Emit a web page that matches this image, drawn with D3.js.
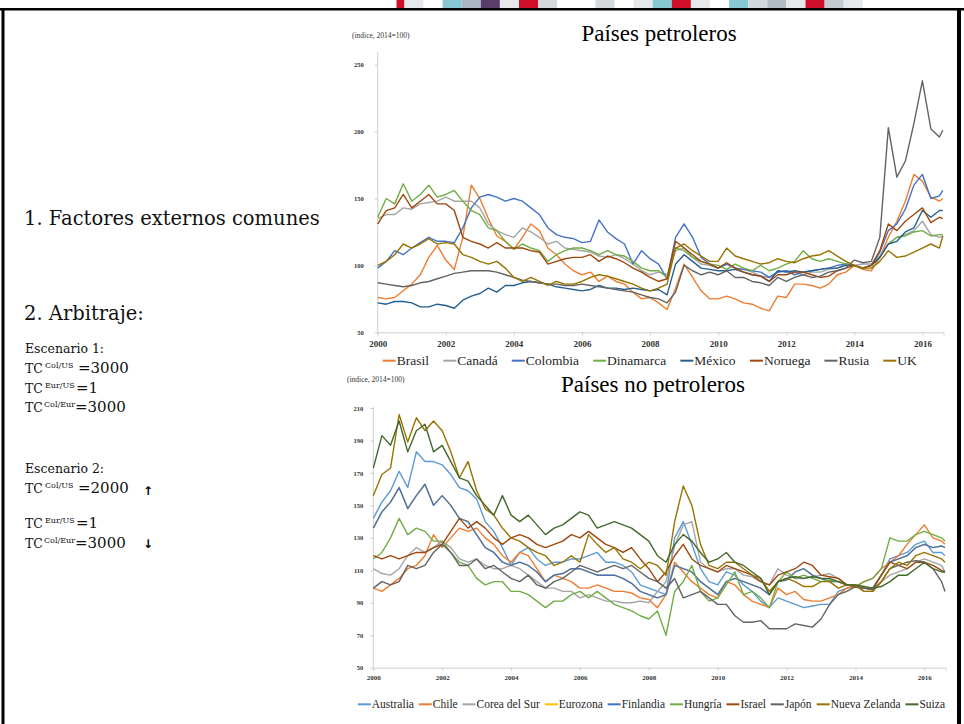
<!DOCTYPE html>
<html>
<head>
<meta charset="utf-8">
<title>Países petroleros / no petroleros</title>
<script src="https://cdn.jsdelivr.net/npm/d3@7"></script>
<style>
  body { margin: 0; background: #fff; }
  svg { display: block; }
</style>
</head>
<body>
<svg id="slide" width="964" height="724"></svg>
<script>
// fechas: trimestres 2000-2016 y el ultimo dato (ago-2016)
const fechas = d3.range(67).map(i => 2000 + i / 4).concat([2016.6]);
const anos = [2000, 2002, 2004, 2006, 2008, 2010, 2012, 2014, 2016];
const ticksPetro = [50, 100, 150, 200, 250];
const ticksNoPetro = [50, 70, 90, 110, 130, 150, 170, 190, 210];

// ---- paises petroleros (indice, 2014=100) ----
const brasil = [
  76, 75, 76, 81,  86, 93, 106, 115,  104, 97, 121, 160,  150, 135, 122, 118,
  112, 121, 131, 126,  113, 108, 101, 96,  93, 95, 88, 92,  88, 86, 80, 75,
  76, 72, 67, 83,  101, 91, 81, 75,  75, 77, 75, 72,  71, 68, 66, 77,
  76, 86, 86, 85,  83, 86, 93, 95,  100, 97, 96, 106,  121, 133, 148, 168,
  163, 151, 148, 150];
const canada = [
  135, 138, 138, 143,  142, 146, 147, 148,  151, 148, 148, 148,  143, 131, 126, 123,
  121, 128, 125, 121,  116, 118, 113, 112,  111, 110, 107, 106,  108, 105, 101, 96,
  93, 95, 93, 111,  113, 106, 101, 100,  98, 101, 98, 97,  95, 92, 91, 95,
  96, 95, 93, 95,  95, 97, 98, 101,  100, 101, 101, 107,  116, 121, 123, 126,
  133, 123, 121, 122];
const colombia = [
  98, 103, 111, 108,  113, 117, 121, 118,  118, 117, 128, 143,  151, 153, 151, 148,
  150, 148, 143, 138,  128, 123, 121, 120,  117, 118, 134, 125,  120, 116, 101, 111,
  105, 101, 90, 121,  131, 121, 106, 101,  98, 101, 98, 97,  96, 95, 91, 95,
  96, 93, 95, 96,  97, 98, 100, 101,  100, 98, 100, 110,  126, 131, 142, 160,
  168, 150, 152, 156];
const dinamarca = [
  136, 150, 146, 161,  148, 153, 160, 151,  153, 156, 148, 141,  138, 128, 126, 118,
  112, 116, 113, 111,  103, 108, 111, 113,  113, 111, 108, 111,  108, 107, 103, 98,
  96, 96, 91, 113,  111, 106, 103, 101,  100, 97, 101, 98,  96, 100, 96, 98,
  101, 103, 111, 105,  103, 105, 103, 101,  100, 98, 100, 106,  116, 121, 122, 125,
  126, 122, 123, 123];
const mexico = [
  72, 71, 73, 73,  72, 69, 69, 71,  70, 68, 74, 77,  79, 83, 80, 85,
  85, 87, 88, 87,  86, 84, 83, 82,  81, 82, 85, 83,  83, 82, 83, 82,
  81, 82, 78, 101,  108, 103, 98, 97,  96, 96, 97, 95,  93, 92, 88, 96,
  95, 96, 95, 96,  97, 98, 98, 100,  100, 98, 100, 106,  116, 118, 125, 128,
  141, 136, 141, 141];
const noruega = [
  131, 141, 143, 153,  143, 148, 153, 146,  146, 141, 121, 118,  116, 113, 117, 113,
  113, 113, 111, 110,  101, 103, 105, 106,  106, 108, 103, 107,  105, 102, 98, 95,
  91, 88, 90, 118,  113, 108, 103, 101,  98, 102, 98, 95,  93, 92, 88, 93,
  93, 95, 95, 93,  91, 92, 96, 98,  100, 98, 100, 111,  131, 126, 133, 138,
  143, 132, 136, 135];
const rusia = [
  87, 86, 85, 84,  85, 87, 88, 90,  92, 94, 95, 96,  96, 96, 95, 93,
  91, 89, 88, 87,  86, 86, 85, 85,  86, 85, 84, 83,  82, 81, 80, 78,
  76, 75, 72, 80,  100, 96, 93, 95,  93, 96, 91, 91,  88, 87, 85, 91,
  88, 91, 93, 91,  92, 95, 96, 98,  104, 102, 103, 121,  203, 166, 178, 206,
  238, 202, 196, 201];
const uk = [
  100, 103, 108, 116,  113, 116, 120, 116,  117, 116, 108, 106,  103, 101, 103, 98,
  91, 88, 91, 88,  85, 88, 86, 86,  88, 91, 93, 92,  90, 88, 86, 83,
  81, 83, 86, 113,  116, 111, 107, 103,  103, 113, 107, 105,  103, 101, 102, 105,
  103, 102, 105, 107,  108, 111, 107, 103,  100, 98, 98, 103,  111, 106, 107, 110,
  113, 116, 113, 122];

// ---- paises no petroleros (indice, 2014=100) ----
const australia = [
  142, 152, 159, 171,  161, 183, 177, 177,  175, 169, 161, 159,  154, 140, 134, 124,
  113, 121, 124, 117,  113, 115, 115, 117,  117, 119, 121, 115,  115, 113, 109, 101,
  99, 97, 95, 130,  140, 126, 111, 103,  101, 109, 107, 101,  97, 91, 87, 93,
  91, 89, 87, 88,  89, 89, 97, 99,  100, 99, 99, 107,  117, 119, 121, 126,
  128, 121, 121, 119];
const chile = [
  99, 97, 101, 105,  111, 113, 119, 132,  124, 130, 136, 134,  136, 130, 126, 119,
  115, 121, 119, 111,  103, 107, 105, 103,  99, 99, 101, 99,  97, 97, 96, 93,
  92, 87, 95, 115,  109, 103, 99, 95,  93, 103, 101, 95,  91, 89, 87, 99,
  95, 97, 92, 91,  91, 93, 95, 99,  100, 103, 105, 111,  115, 119, 126, 132,
  138, 130, 128, 126];
const corea = [
  111, 108, 107, 111,  119, 124, 121, 124,  128, 124, 117, 115,  117, 113, 111, 111,
  113, 111, 107, 103,  99, 99, 97, 97,  93, 95, 93, 91,  91, 90, 90, 91,
  90, 97, 103, 125,  138, 140, 115, 111,  109, 111, 111, 107,  106, 103, 101, 111,
  107, 105, 105, 106,  107, 108, 105, 101,  100, 97, 97, 103,  107, 109, 111, 115,
  117, 115, 113, 109];
const finlandia = [
  136, 146, 152, 161,  148, 156, 163, 150,  156, 150, 142, 140,  132, 124, 121, 115,
  113, 115, 113, 109,  103, 107, 108, 111,  111, 109, 107, 107,  107, 105, 102, 97,
  95, 93, 95, 113,  111, 109, 103, 99,  95, 103, 105, 103,  101, 99, 95, 103,
  104, 109, 111, 107,  105, 103, 103, 101,  100, 99, 99, 107,  115, 117, 119, 124,
  126, 124, 125, 124];
const eurozona = finlandia; // mismo euro: queda tapada por Finlandia
const hungria = [
  117, 121, 130, 142,  132, 136, 134, 128,  128, 121, 115, 113,  105, 101, 103, 103,
  97, 97, 95, 91,  87, 91, 91, 95,  97, 93, 97, 93,  89, 87, 85, 82,
  80, 85, 70, 97,  103, 113, 97, 91,  93, 101, 109, 95,  97, 93, 87, 103,
  109, 105, 107, 105,  103, 104, 103, 101,  100, 103, 105, 111,  130, 128, 128, 132,
  134, 132, 130, 128];
const israel = [
  119, 117, 119, 117,  119, 121, 121, 124,  126, 134, 142, 136,  140, 136, 130, 126,
  130, 132, 130, 126,  124, 126, 128, 132,  130, 134, 130, 126,  124, 121, 124, 117,
  111, 103, 109, 119,  126, 117, 113, 111,  109, 113, 111, 109,  107, 103, 101, 107,
  109, 111, 115, 113,  107, 106, 105, 101,  100, 99, 98, 107,  115, 113, 111, 115,
  115, 113, 110, 109];
const japon = [
  99, 103, 101, 103,  113, 111, 113, 121,  126, 121, 113, 113,  117, 111, 113, 109,
  105, 103, 107, 101,  99, 103, 105, 109,  113, 111, 109, 111,  113, 111, 113, 109,
  105, 103, 99, 105,  93, 95, 97, 93,  89, 89, 82, 78,  78, 79, 74, 74,
  74, 77, 76, 75,  80, 89, 95, 97,  100, 99, 98, 103,  111, 113, 115, 116,
  115, 111, 103, 97];
const nuevaZelanda = [
  156, 169, 173, 206,  189, 204, 196, 202,  196, 183, 167, 177,  159, 148, 144, 136,
  130, 128, 124, 121,  119, 113, 115, 119,  115, 132, 126, 121,  124, 117, 115, 111,
  115, 113, 107, 140,  162, 150, 126, 113,  111, 115, 115, 111,  107, 105, 97, 103,
  105, 103, 100, 100,  103, 103, 99, 101,  101, 97, 97, 103,  111, 115, 113, 119,
  121, 119, 117, 115];
const suiza = [
  173, 193, 187, 202,  183, 196, 200, 183,  187, 177, 167, 165,  156, 150, 144, 156,
  144, 140, 144, 138,  132, 136, 138, 142,  146, 144, 136, 138,  140, 138, 136, 132,
  128, 119, 115, 126,  132, 128, 121, 115,  117, 121, 115, 113,  109, 105, 95, 103,
  105, 106, 105, 106,  105, 105, 103, 101,  101, 100, 99, 100,  103, 107, 107, 111,
  115, 111, 109, 109];

const nombresPetro = ["Brasil", "Canadá", "Colombia", "Dinamarca", "México", "Noruega", "Rusia", "UK"];
const valoresPetro = [brasil, canada, colombia, dinamarca, mexico, noruega, rusia, uk];
const coloresPetro = ["#ED7D31", "#A5A5A5", "#4472C4", "#70AD47", "#255E91", "#9E480E", "#636363", "#997300"];

const nombresNoPetro = ["Australia", "Chile", "Corea del Sur", "Eurozona", "Finlandia", "Hungría", "Israel", "Japón", "Nueva Zelanda", "Suiza"];
const valoresNoPetro = [australia, chile, corea, eurozona, finlandia, hungria, israel, japon, nuevaZelanda, suiza];
const coloresNoPetro = ["#5B9BD5", "#ED7D31", "#A5A5A5", "#FFC000", "#4472C4", "#70AD47", "#9E480E", "#636363", "#997300", "#43682B"];

// franja de color cortada en el borde superior de la diapositiva
const franja = ["#e6e9ec", null, "#86c9d3", "#aab6c0", "#5b3d6b", "#e6e9ec", "#d0102a", "#d4d9de",
  null, null, "#d4d9de", null, "#e6e9ec", "#86c9d3", "#d0102a", "#e6e9ec", null,
  "#86c9d3", "#d4d9de", "#b3bbc3", "#e6e9ec", "#d0102a", "#c4ccd2", "#e6e9ec"];

const serif = "'Liberation Serif', 'Times New Roman', serif";
const slideFont = "'DejaVu Serif', serif";

const svg = d3.select("#slide");

// ---------- marco ----------
svg.append("rect").attr("x", 396.5).attr("y", 0).attr("width", 8).attr("height", 8).attr("fill", "#d0102a");
svg.append("g").selectAll("rect")
  .data(franja)
  .join("rect")
  .attr("x", (d, i) => 404.4 + i * 19.1)
  .attr("y", 0)
  .attr("width", 19.1)
  .attr("height", 8)
  .attr("fill", d => d || "none");
svg.append("rect").attr("x", 0).attr("y", 8).attr("width", 964).attr("height", 2.5).attr("fill", "#000");
svg.append("rect").attr("x", 1.5).attr("y", 8).attr("width", 3).attr("height", 716).attr("fill", "#000");
svg.append("rect").attr("x", 957).attr("y", 8).attr("width", 4).attr("height", 716).attr("fill", "#000");

// ---------- texto de la izquierda ----------
function sText(x, y, size, str) {
  return svg.append("text").attr("x", x).attr("y", y)
    .attr("font-family", slideFont).attr("font-size", size).attr("fill", "#111").text(str);
}
sText(24, 225, 19.5, "1. Factores externos comunes");
sText(24, 320, 19.5, "2. Arbitraje:");

function tcLine(y, sup, val, supX, valX) {
  sText(25, y, 12.5, "TC");
  sText(supX, y - 5, 8, sup);
  sText(valX, y, 15, val);
}
sText(25, 353, 12.5, "Escenario 1:");
tcLine(373, "Col/US", "=3000", 45, 78);
tcLine(393, "Eur/US", "=1", 45, 76);
tcLine(412, "Col/Eur", "=3000", 44, 75);

sText(25, 473, 12.5, "Escenario 2:");
tcLine(493, "Col/US", "=2000", 45, 78);
tcLine(528, "Eur/US", "=1", 45, 76);
tcLine(548, "Col/Eur", "=3000", 44, 75);
svg.append("text").attr("x", 148).attr("y", 495).attr("text-anchor", "middle")
  .attr("font-family", "'DejaVu Sans', sans-serif").attr("font-weight", "bold").attr("font-size", 12).text("↑");
svg.append("text").attr("x", 148).attr("y", 548).attr("text-anchor", "middle")
  .attr("font-family", "'DejaVu Sans', sans-serif").attr("font-weight", "bold").attr("font-size", 12).text("↓");

// ---------- paneles ----------
function panel(cfg) {
  const g = svg.append("g");
  const x = d3.scaleLinear().domain([2000, 2016.62]).range([cfg.left, cfg.right]);
  const y = d3.scaleLinear().domain(cfg.yDomain).range([cfg.bottom, cfg.top]);

  const yAxis = g.append("g")
    .attr("transform", `translate(${cfg.left},0)`)
    .call(d3.axisLeft(y).tickValues(cfg.yTicks).tickSize(3).tickPadding(cfg.yPad));
  const xAxis = g.append("g")
    .attr("transform", `translate(0,${cfg.bottom})`)
    .call(d3.axisBottom(x).tickValues(anos).tickFormat(d3.format("d")).tickSize(3).tickPadding(cfg.xPad));

  [yAxis, xAxis].forEach(a => {
    a.select(".domain").attr("stroke", "#cfcfcf");
    a.selectAll(".tick line").attr("stroke", "#cfcfcf");
    a.selectAll("text").attr("fill", "#333").attr("font-family", serif).attr("font-weight", "bold");
  });
  yAxis.selectAll("text").attr("font-size", cfg.yFont);
  xAxis.selectAll("text").attr("font-size", cfg.xFont);
  yAxis.select(".domain").attr("d", `M0,${cfg.bottom}V${cfg.axisTop}`);

  const line = d3.line()
    .x((d, i) => x(fechas[i]))
    .y(d => y(d));

  const series = cfg.names.map((n, i) => ({ name: n, values: cfg.values[i], color: cfg.colors[i] }));
  g.append("g").selectAll("path")
    .data(series)
    .join("path")
    .attr("fill", "none")
    .attr("stroke", d => d.color)
    .attr("stroke-width", 1.4)
    .attr("stroke-linejoin", "round")
    .attr("d", d => line(d.values));

  // titulo y nota
  svg.append("text").attr("x", cfg.titleX).attr("y", cfg.titleY).attr("text-anchor", "middle")
    .attr("font-family", serif).attr("font-size", 23).attr("fill", "#000").text(cfg.title);
  svg.append("text").attr("x", cfg.noteX).attr("y", cfg.noteY)
    .attr("font-family", serif).attr("font-size", 7.5).attr("fill", "#333").text("(indice, 2014=100)");

  // leyenda repartida a lo ancho
  const lg = svg.append("g").attr("font-family", serif).attr("font-size", cfg.legFont).attr("fill", "#262626");
  const items = lg.selectAll("g").data(series).join("g");
  items.append("line")
    .attr("x1", 0).attr("x2", 13)
    .attr("y1", -cfg.legFont * 0.32).attr("y2", -cfg.legFont * 0.32)
    .attr("stroke", d => d.color).attr("stroke-width", 2);
  items.append("text").attr("x", 14).text(d => d.name);
  const widths = items.nodes().map(n => n.getBBox().width);
  const gap = (cfg.legRight - cfg.legLeft - d3.sum(widths)) / (series.length - 1);
  let cx = cfg.legLeft;
  items.attr("transform", (d, i) => {
    const t = `translate(${cx},${cfg.legY})`;
    cx += widths[i] + gap;
    return t;
  });
}

panel({
  title: "Países petroleros", titleX: 659, titleY: 41, noteX: 352, noteY: 38,
  left: 377.7, right: 943.5, top: 52, bottom: 332.3, axisTop: 52,
  yDomain: [50, 259.5], yTicks: ticksPetro, yPad: 11, xPad: 5, yFont: 6.5, xFont: 9,
  names: nombresPetro, values: valoresPetro, colors: coloresPetro,
  legLeft: 382.7, legRight: 917, legY: 365, legFont: 13.5
});

panel({
  title: "Países no petroleros", titleX: 653, titleY: 392, noteX: 347, noteY: 382,
  left: 373.3, right: 945.7, top: 408, bottom: 667.7, axisTop: 407,
  yDomain: [50, 210], yTicks: ticksNoPetro, yPad: 7, xPad: 4, yFont: 6.5, xFont: 7,
  names: nombresNoPetro, values: valoresNoPetro, colors: coloresNoPetro,
  legLeft: 357.8, legRight: 945, legY: 708, legFont: 11.5
});
</script>
</body>
</html>
